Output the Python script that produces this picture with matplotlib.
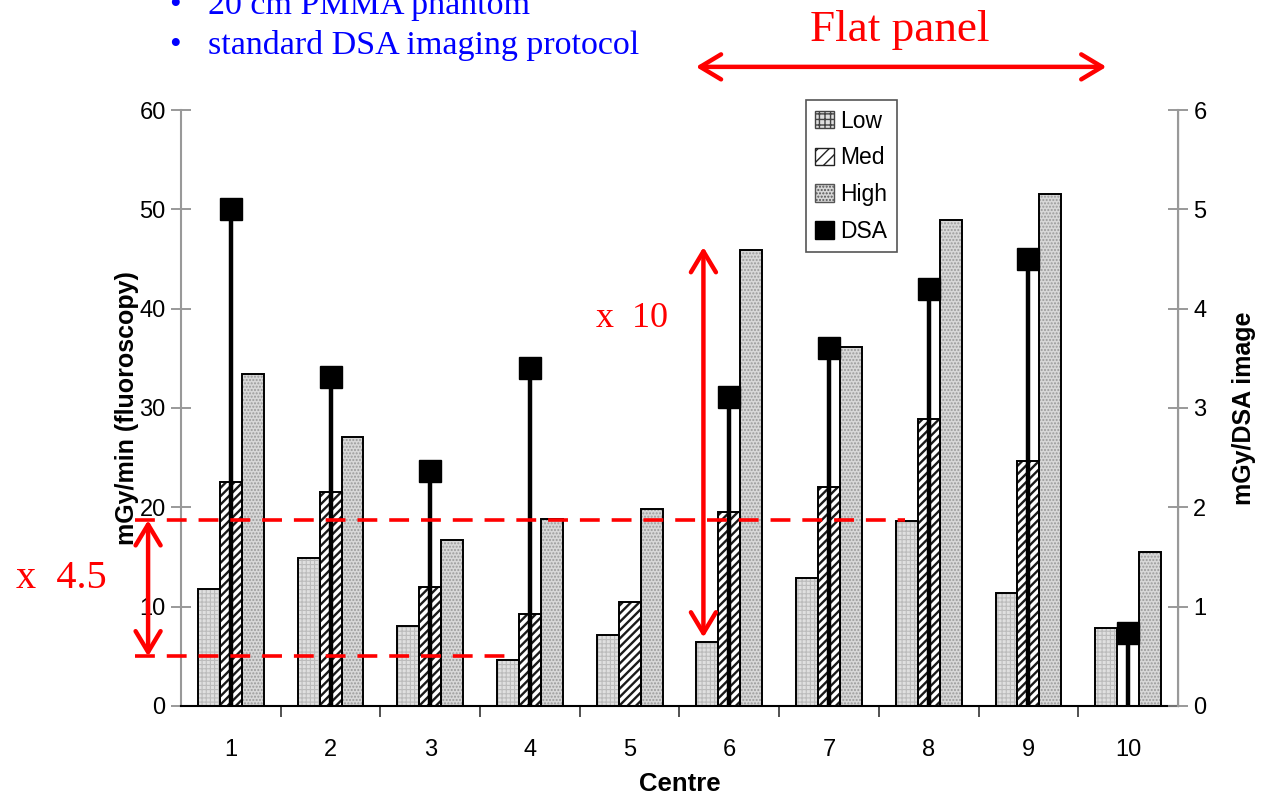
import numpy as np
import matplotlib
matplotlib.use("Agg")
import matplotlib.pyplot as plt
from matplotlib.patches import Patch, FancyArrowPatch
from matplotlib.lines import Line2D

plt.rcParams['font.family'] = ['Liberation Sans', 'DejaVu Sans']

# values
centres = np.arange(1, 11)
low = [11.8, 14.9, 8.1, 4.6, 7.1, 6.4, 12.9, 18.6, 11.4, 7.9]
med = [22.5, 21.5, 12.0, 9.3, 10.5, 19.5, 22.0, 28.9, 24.7, np.nan]
high = [33.4, 27.1, 16.7, 18.8, 19.8, 45.9, 36.1, 48.9, 51.5, 15.5]
dsa = [5.0, 3.31, 2.37, 3.40, np.nan, 3.11, 3.60, 4.20, 4.50, 0.73]
left_ticks = [0, 10, 20, 30, 40, 50, 60]
right_ticks = [0, 1, 2, 3, 4, 5, 6]
levels = [18.7, 5.0]   # red dashed reference levels (mGy/min)

fig = plt.figure(figsize=(12.63, 7.96), dpi=100)
ax = fig.add_axes([0.1433, 0.1131, 0.7894, 0.7487])
w = 0.22

def hatched_bars(x, h, face, hcol, hatch):
    x = np.asarray(x, float)
    h = np.asarray(h, float)
    ok = ~np.isnan(h)
    ax.bar(x[ok], h[ok], w, color=face, edgecolor=hcol, linewidth=0, hatch=hatch, zorder=2)
    ax.bar(x[ok], h[ok], w, facecolor='none', edgecolor='black', linewidth=1.4, zorder=3)

plt.rcParams['hatch.linewidth'] = 0.8
hatched_bars(centres - w, low, '#e0e0e0', '#bcbcbc', '++++')
plt.rcParams['hatch.linewidth'] = 1.7
hatched_bars(centres, med, 'white', '#1a1a1a', '////')
plt.rcParams['hatch.linewidth'] = 1.0
hatched_bars(centres + w, high, '#d8d8d8', '#9a9a9a', '.....')

ax.set_xlim(0.5, 10.5)
ax.set_ylim(0, 60)
ax.set_yticks(left_ticks)
ax.set_xticks(centres)
ax.set_xticks(centres[:-1] + 0.5, minor=True)
ax.tick_params(axis='x', which='major', length=0, pad=24, labelsize=17)
ax.tick_params(axis='x', which='minor', length=8, direction='out', width=1.2, color='#333333')
ax.tick_params(axis='y', length=14, direction='inout', width=1.2, color='#888888', labelsize=17, pad=4)
ax.spines['top'].set_visible(False)
ax.spines['left'].set_color('#999999')
ax.spines['left'].set_linewidth(1.5)
ax.spines['bottom'].set_linewidth(1.5)
ax.set_xlabel('Centre', fontsize=18.5, fontweight='bold', labelpad=8)
ax.set_ylabel('mGy/min (fluoroscopy)', fontsize=18, fontweight='bold', labelpad=0)

ax2 = ax.twinx()
ax2.set_ylim(0, 6)
ax2.set_yticks(right_ticks)
ax2.tick_params(axis='y', length=14, direction='inout', width=1.2, color='#888888', labelsize=17, pad=4)
for s in ['top', 'left', 'bottom']:
    ax2.spines[s].set_visible(False)
ax2.spines['right'].set_color('#999999')
ax2.spines['right'].set_linewidth(1.5)
ax2.set_ylabel('mGy/DSA image', fontsize=18, fontweight='bold', labelpad=18)

d = np.asarray(dsa, float)
ok = ~np.isnan(d)
ax2.vlines(centres[ok], 0, d[ok], color='black', linewidth=3.2, zorder=3)
ax2.plot(centres[ok], d[ok], 's', color='black', markersize=16.5, zorder=4)

handles = [
    Patch(facecolor='#dedede', edgecolor='#444444', hatch='+++', label='Low'),
    Patch(facecolor='white', edgecolor='#222222', hatch='///', label='Med'),
    Patch(facecolor='#d8d8d8', edgecolor='#555555', hatch='.....', label='High'),
    Patch(facecolor='black', edgecolor='black', label='DSA'),
]
leg = ax2.legend(handles=handles, loc='upper left', bbox_to_anchor=(0.627, 1.016),
                 fontsize=16.5, handlelength=0.8, handleheight=0.8, handletextpad=0.3,
                 labelspacing=0.6, borderpad=0.4, fancybox=False, framealpha=1,
                 borderaxespad=0)
leg.get_frame().set_edgecolor('#555555')
leg.get_frame().set_linewidth(1.2)

# red annotations, drawn above both axes
red = '#ff0000'
fig.add_artist(Line2D([0.04, 7.76], [levels[0]] * 2, transform=ax.transData, color=red,
                      linewidth=2.6, dashes=(5.5, 3.3)))
fig.add_artist(Line2D([0.04, 3.80], [levels[1]] * 2, transform=ax.transData, color=red,
                      linewidth=2.6, dashes=(5.5, 3.3)))

def red_arrow(p0, p1, tr):
    fig.add_artist(FancyArrowPatch(p0, p1, transform=tr, color=red, linewidth=3.2,
                                   arrowstyle='<->,head_length=0.75,head_width=0.45',
                                   mutation_scale=20, shrinkA=0, shrinkB=0))

red_arrow((0.17, levels[0]), (0.17, levels[1]), ax.transData)
red_arrow((5.74, 46.2), (5.74, 6.9), ax.transData)
red_arrow((0.551, 0.916), (0.876, 0.916), fig.transFigure)

serif = ['Liberation Serif', 'DejaVu Serif']
fig.text(0.013, 0.273, 'x  4.5', color=red, fontsize=29, family=serif, va='center')
fig.text(0.472, 0.600, 'x  10', color=red, fontsize=26, family=serif, va='center')
fig.text(0.712, 0.962, 'Flat panel', color=red, fontsize=32.5, family=serif, ha='center', va='center')

blue = '#0000ff'
for y, line in [(0.993, '20 cm PMMA phantom'), (0.9425, 'standard DSA imaging protocol')]:
    fig.text(0.134, y, '\u2022', color=blue, fontsize=24, family=serif, va='center')
    fig.text(0.1647, y, line, color=blue, fontsize=24.5, family=serif, va='center')

fig.savefig('out.png', dpi=100)
